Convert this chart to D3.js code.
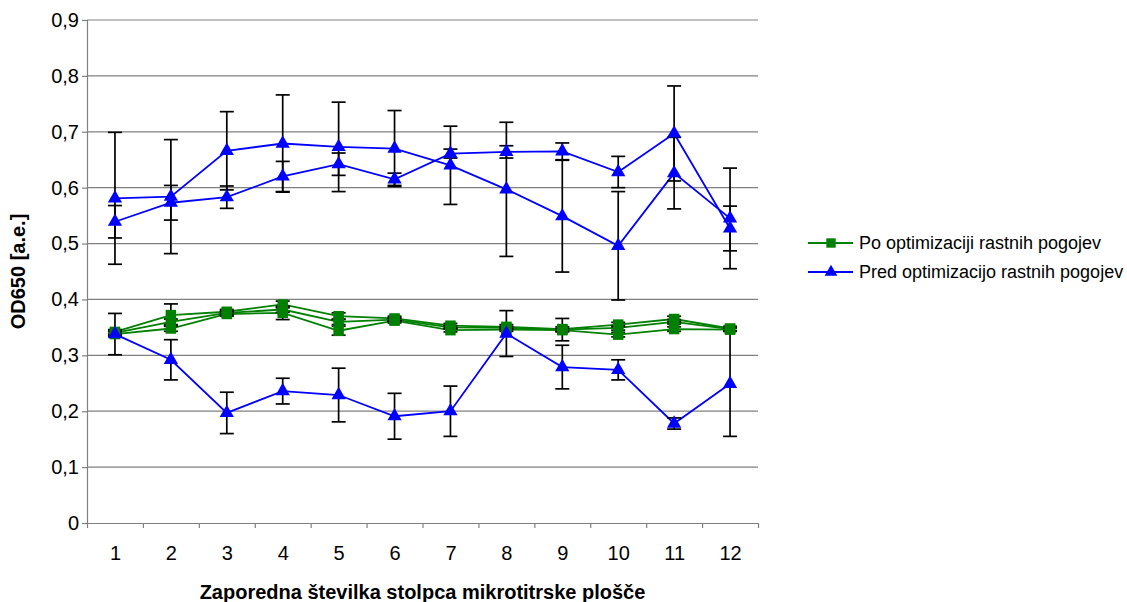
<!DOCTYPE html>
<html lang="sl">
<head>
<meta charset="utf-8">
<script src="https://d3js.org/d3.v7.min.js"></script>
<title>OD650</title>
<style>
    body { margin: 0; background: #fff; }
    text { font-family: "Liberation Sans", Arial, sans-serif; }
</style>
</head>
<body>
<div id="container"></div>
<script>
    // column numbers on the microtiter plate
    var columns = [1, 2, 3, 4, 5, 6, 7, 8, 9, 10, 11, 12];
    var yTicks = [0, 0.1, 0.2, 0.3, 0.4, 0.5, 0.6, 0.7, 0.8, 0.9];

    // "Po optimizaciji rastnih pogojev" (three repeats)
    var po1 = [0.342, 0.372, 0.378, 0.391, 0.370, 0.366, 0.353, 0.351, 0.347, 0.355, 0.365, 0.348];
    var po1Err = [0.004, 0.020, 0.004, 0.006, 0.006, 0.004, 0.004, 0.004, 0.004, 0.004, 0.005, 0.004];
    var po2 = [0.340, 0.360, 0.376, 0.382, 0.360, 0.364, 0.350, 0.349, 0.346, 0.349, 0.360, 0.347];
    var po2Err = [0.004, 0.005, 0.004, 0.005, 0.005, 0.003, 0.003, 0.003, 0.020, 0.004, 0.004, 0.003];
    var po3 = [0.338, 0.348, 0.374, 0.376, 0.344, 0.362, 0.345, 0.346, 0.345, 0.337, 0.347, 0.346];
    var po3Err = [0.004, 0.005, 0.004, 0.012, 0.008, 0.004, 0.003, 0.003, 0.003, 0.004, 0.004, 0.003];

    // "Pred optimizacijo rastnih pogojev" (three repeats)
    var pred1 = [0.581, 0.584, 0.666, 0.679, 0.673, 0.670, 0.640, 0.597, 0.549, 0.496, 0.626, 0.545];
    var pred1Err = [0.118, 0.102, 0.070, 0.087, 0.080, 0.068, 0.070, 0.120, 0.100, 0.097, 0.064, 0.090];
    var pred2 = [0.539, 0.573, 0.583, 0.620, 0.642, 0.615, 0.661, 0.664, 0.665, 0.628, 0.697, 0.527];
    var pred2Err = [0.029, 0.031, 0.020, 0.027, 0.020, 0.011, 0.008, 0.011, 0.015, 0.028, 0.085, 0.040];
    var pred3 = [0.338, 0.292, 0.197, 0.236, 0.229, 0.191, 0.200, 0.339, 0.279, 0.274, 0.178, 0.249];
    var pred3Err = [0.037, 0.036, 0.037, 0.023, 0.048, 0.041, 0.045, 0.041, 0.039, 0.018, 0.010, 0.094];

    var groups = [
        {name: "Po optimizaciji rastnih pogojev", color: "#008000", symbol: d3.symbolSquare, size: 110,
         series: [[po1, po1Err], [po2, po2Err], [po3, po3Err]]},
        {name: "Pred optimizacijo rastnih pogojev", color: "#0000ff", symbol: d3.symbolTriangle, size: 88,
         series: [[pred1, pred1Err], [pred2, pred2Err], [pred3, pred3Err]]}
    ];

    var W = 1127, H = 602;
    var plotL = 87, plotR = 758, plotT = 20, plotB = 523;

    var svg = d3.select("#container").append("svg")
        .attr("width", W).attr("height", H);

    var x = d3.scaleLinear().domain([0.5, 12.5]).range([plotL, plotR]);
    var y = d3.scaleLinear().domain([0, 0.9]).range([plotB, plotT]);
    var fmt = function(d) { return d === 0 ? "0" : d3.format(".1f")(d).replace(".", ","); };

    // gridlines
    svg.append("g").selectAll("line").data(yTicks.slice(1)).enter().append("line")
        .attr("x1", plotL).attr("x2", plotR)
        .attr("y1", function(d) { return y(d); }).attr("y2", function(d) { return y(d); })
        .attr("stroke", "#808080").attr("stroke-width", 1.2);

    // y axis
    var yAxis = svg.append("g").attr("transform", "translate(" + plotL + ",0)")
        .call(d3.axisLeft(y).tickValues(yTicks).tickFormat(fmt).tickSize(5).tickPadding(3));
    // x axis: labels in the centre of each column, ticks between them
    var xAxis = svg.append("g").attr("transform", "translate(0," + plotB + ")")
        .call(d3.axisBottom(x).tickValues(columns).tickSize(0).tickPadding(23));
    var xTicks = svg.append("g").attr("transform", "translate(0," + plotB + ")")
        .call(d3.axisBottom(x).tickValues(d3.range(0.5, 13, 1)).tickFormat("").tickSize(5).tickSizeOuter(0));
    [yAxis, xAxis, xTicks].forEach(function(a) {
        a.selectAll(".domain").attr("stroke", "#808080").attr("stroke-width", 1.2);
        a.selectAll(".tick line").attr("stroke", "#808080").attr("stroke-width", 1.2);
        a.selectAll("text").attr("font-size", 20).attr("fill", "#000")
            .style("font-family", '"Liberation Sans", Arial, sans-serif');
    });

    var line = d3.line()
        .x(function(d, i) { return x(columns[i]); })
        .y(function(d) { return y(d); });

    // lines
    groups.forEach(function(g) {
        g.series.forEach(function(s) {
            svg.append("path").datum(s[0]).attr("d", line)
                .attr("fill", "none").attr("stroke", g.color).attr("stroke-width", 1.8);
        });
    });

    // error bars
    var cap = 7;
    groups.forEach(function(g) {
        g.series.forEach(function(s) {
            var eb = svg.append("g").selectAll("g").data(s[0]).enter().append("g")
                .attr("stroke", "#000").attr("stroke-width", 1.7);
            eb.append("line")
                .attr("x1", function(d, i) { return x(columns[i]); })
                .attr("x2", function(d, i) { return x(columns[i]); })
                .attr("y1", function(d, i) { return y(d + s[1][i]); })
                .attr("y2", function(d, i) { return y(d - s[1][i]); });
            [1, -1].forEach(function(sign) {
                eb.append("line")
                    .attr("x1", function(d, i) { return x(columns[i]) - cap; })
                    .attr("x2", function(d, i) { return x(columns[i]) + cap; })
                    .attr("y1", function(d, i) { return y(d + sign * s[1][i]); })
                    .attr("y2", function(d, i) { return y(d + sign * s[1][i]); });
            });
        });
    });

    // markers
    groups.forEach(function(g) {
        var sym = d3.symbol().type(g.symbol).size(g.size);
        g.series.forEach(function(s) {
            svg.append("g").selectAll("path").data(s[0]).enter().append("path")
                .attr("d", sym)
                .attr("transform", function(d, i) { return "translate(" + x(columns[i]) + "," + y(d) + ")"; })
                .attr("fill", g.color);
        });
    });

    // axis titles
    svg.append("text")
        .attr("x", (plotL + plotR) / 2).attr("y", 599)
        .attr("text-anchor", "middle").attr("font-size", 20).attr("font-weight", "bold")
        .text("Zaporedna številka stolpca mikrotitrske plošče");
    svg.append("text")
        .attr("transform", "translate(25," + (plotT + plotB) / 2 + ") rotate(-90)")
        .attr("text-anchor", "middle").attr("font-size", 20).attr("font-weight", "bold")
        .text("OD650 [a.e.]");

    // legend
    var legend = svg.append("g").attr("transform", "translate(808,243)");
    groups.forEach(function(g, i) {
        var row = legend.append("g").attr("transform", "translate(0," + i * 29 + ")");
        row.append("line").attr("x1", 0).attr("x2", 45).attr("y1", 0).attr("y2", 0)
            .attr("stroke", g.color).attr("stroke-width", 1.8);
        row.append("path").attr("d", d3.symbol().type(g.symbol).size(g.size * 0.8))
            .attr("transform", "translate(23,0)").attr("fill", g.color);
        row.append("text").attr("x", 51).attr("y", 6).attr("font-size", 18)
            .text(g.name);
    });
</script>
</body>
</html>
